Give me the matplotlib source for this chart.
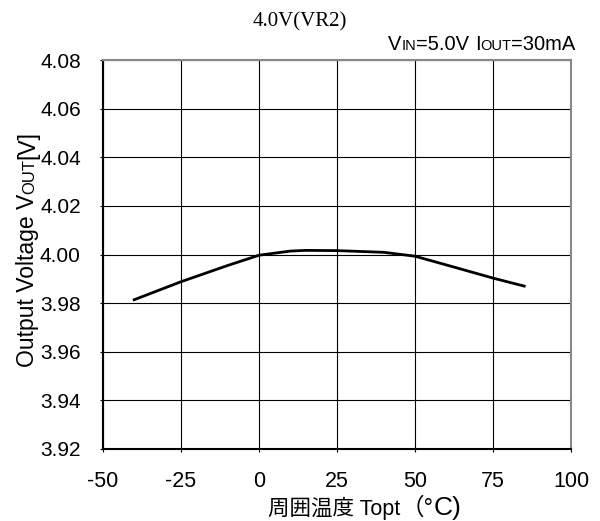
import numpy as np
import matplotlib.pyplot as plt

plt.rcParams['font.family'] = ['Liberation Sans', 'Noto Sans CJK JP', 'DejaVu Sans']
plt.rcParams['axes.unicode_minus'] = False

# data
temp = [-40, -25, -10, 0, 10, 15, 25, 40, 50, 62, 75, 85]
vout = [3.9814, 3.9888, 3.9955, 3.9997, 4.0014, 4.0017, 4.0016, 4.0009, 3.9993, 3.9950, 3.9903, 3.9870]

xticks = [-50, -25, 0, 25, 50, 75, 100]
yticks = [3.92, 3.94, 3.96, 3.98, 4.00, 4.02, 4.04, 4.06, 4.08]

W, H = 600, 521
fig = plt.figure(figsize=(W/100, H/100), dpi=100)
ax = fig.add_axes([103/W, 1 - 449/H, 468/W, 389/H])

ax.plot(temp, vout, color='black', lw=2)
ax.set_xlim(-50, 100)
ax.set_ylim(3.92, 4.08)
ax.set_xticks(xticks)
ax.set_yticks(yticks)
ax.set_yticklabels(['%.2f' % v for v in yticks])
ax.grid(True, color='black', lw=0.8)
ax.tick_params(labelsize=15.5, length=2, width=0.8, direction='out')
ax.tick_params(axis='y', pad=14, labelsize=15)
ax.tick_params(axis='x', pad=14)
for s in ['top', 'right']:
    ax.spines[s].set_color('#888888')
    ax.spines[s].set_linewidth(1.5)
for s in ['left', 'bottom']:
    ax.spines[s].set_color('black')
    ax.spines[s].set_linewidth(1.5)

fig.canvas.draw()
r = fig.canvas.get_renderer()

# y label, pieces stacked upward (small caps subscript)
y = 367
for s, fs in [('Output Voltage V', 16.5), ('OUT', 12), ('[V]', 16.5)]:
    t = fig.text(34/W, 1 - y/H, s, rotation=90, rotation_mode='anchor',
                 ha='left', va='baseline', fontsize=fs)
    y -= t.get_window_extent(r).height

# x label
x = 268
for s, fs in [('周囲温度 Topt', 15.5), ('（°', 17), ('C)', 19)]:
    t = fig.text(x/W, 1 - 515/H, s, ha='left', va='baseline', fontsize=fs)
    x += t.get_window_extent(r).width

fig.text(300/W, 1 - 22/H, '4.0V(VR2)', ha='center', va='center',
         fontsize=15, family='Liberation Serif')

# condition text with small-caps style subscripts
x = 388
parts = [('V', 14.5), ('IN', 10.5), ('=5.0V ', 14.5), ('I', 14.5), ('OUT', 10.5), ('=30mA', 14.5)]
for s, fs in parts:
    t = fig.text(x/W, 1 - 50/H, s, ha='left', va='baseline', fontsize=fs)
    x += t.get_window_extent(r).width

fig.savefig('out.png', dpi=100)
